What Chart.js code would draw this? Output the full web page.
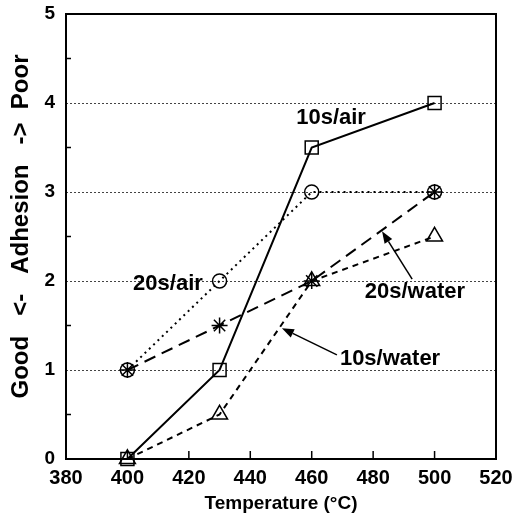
<!DOCTYPE html>
<html>
<head>
<meta charset="utf-8">
<script src="https://cdn.jsdelivr.net/npm/chart.js@4/dist/chart.umd.min.js"></script>
<style>
html,body{margin:0;padding:0;background:#fff;}
#wrap{width:522px;height:518px;}
</style>
</head>
<body>
<div id="wrap"><canvas id="c" width="522" height="518"></canvas></div>
<script>
// ---- data ----
const temps = [400, 430, 460, 500];
const air10 = [0, 1, 3.5, 4];
const air20 = [1, 2, 3, 3];
const water20 = [1, 1.5, 2, 3];
const water10 = [0, 0.5, 2, 2.5];
const xTicks = [380, 400, 420, 440, 460, 480, 500, 520];
const yTicks = [0, 1, 2, 3, 4, 5];
const seriesNames = ['10s/air', '20s/air', '20s/water', '10s/water'];

// annotation labels (data coordinates)
const labelTexts = ['10s/air', '20s/air', '20s/water', '10s/water'];
const labelX = [466.3, 413.2, 493.6, 485.5];
const labelY = [3.83, 1.97, 1.88, 1.12];
// arrows: tail -> head (data coordinates)
const arrowFromX = [492.7, 468.2];
const arrowFromY = [2.02, 1.17];
const arrowToX = [482.9, 450.3];
const arrowToY = [2.56, 1.47];

const FONT = '"Liberation Sans", Arial, Helvetica, sans-serif';

function pts(xs, ys){ return xs.map((x,i)=>({x:x, y:ys[i]})); }

const decor = {
  id: 'decor',
  beforeDatasetsDraw(chart){
    const ctx = chart.ctx, xs = chart.scales.x, ys = chart.scales.y, a = chart.chartArea;
    ctx.save();
    // dotted horizontal grid lines
    ctx.strokeStyle = '#444';
    ctx.lineWidth = 1;
    ctx.setLineDash([2,2]);
    [1,2,3,4].forEach(v=>{
      const y = Math.round(ys.getPixelForValue(v)) + 0.5;
      ctx.beginPath(); ctx.moveTo(a.left, y); ctx.lineTo(a.right, y); ctx.stroke();
    });
    ctx.setLineDash([]);
    ctx.strokeStyle = '#000';
    ctx.lineWidth = 1.5;
    // y minor ticks (inward)
    for (let v = 0.5; v < 5; v += 1){
      const y = ys.getPixelForValue(v);
      ctx.beginPath(); ctx.moveTo(a.left, y); ctx.lineTo(a.left + 5, y); ctx.stroke();
    }
    // x ticks (inward)
    xTicks.slice(1, -1).forEach(v=>{
      const x = xs.getPixelForValue(v);
      ctx.beginPath(); ctx.moveTo(x, a.bottom); ctx.lineTo(x, a.bottom - 8); ctx.stroke();
    });
    // frame
    ctx.lineWidth = 2;
    ctx.strokeRect(a.left, a.top, a.right - a.left, a.bottom - a.top);
    ctx.restore();
  },
  afterDatasetsDraw(chart){
    const ctx = chart.ctx, xs = chart.scales.x, ys = chart.scales.y;
    ctx.save();
    ctx.fillStyle = '#000';
    ctx.font = 'bold 22px ' + FONT;
    ctx.textAlign = 'center';
    ctx.textBaseline = 'middle';
    labelTexts.forEach((t,i)=>{
      ctx.fillText(t, xs.getPixelForValue(labelX[i]), ys.getPixelForValue(labelY[i]));
    });
    ctx.strokeStyle = '#000';
    ctx.lineWidth = 1.5;
    arrowFromX.forEach((_,i)=>{
      const x1 = xs.getPixelForValue(arrowFromX[i]), y1 = ys.getPixelForValue(arrowFromY[i]);
      const x2 = xs.getPixelForValue(arrowToX[i]), y2 = ys.getPixelForValue(arrowToY[i]);
      const ang = Math.atan2(y2 - y1, x2 - x1);
      const L = 12, W = 4.5;
      const bx = x2 - L*Math.cos(ang), by = y2 - L*Math.sin(ang);
      ctx.beginPath(); ctx.moveTo(x1, y1); ctx.lineTo(bx, by); ctx.stroke();
      ctx.beginPath();
      ctx.moveTo(x2, y2);
      ctx.lineTo(bx + W*Math.sin(ang), by - W*Math.cos(ang));
      ctx.lineTo(bx - W*Math.sin(ang), by + W*Math.cos(ang));
      ctx.closePath(); ctx.fill();
    });
    ctx.restore();
  }
};

const common = {
  borderColor: '#000',
  borderWidth: 2,
  pointBorderColor: '#000',
  pointBackgroundColor: 'rgba(0,0,0,0)',
  pointBorderWidth: 1.5,
  pointRadius: 7,
  fill: false,
  tension: 0,
  clip: false
};

new Chart(document.getElementById('c'), {
  type: 'line',
  data: {
    datasets: [
      Object.assign({}, common, {label: seriesNames[0], data: pts(temps, air10), pointStyle: 'rect', pointRadius: 9.2}),
      Object.assign({}, common, {label: seriesNames[1], data: pts(temps, air20), pointStyle: 'circle', pointRadius: 7, borderDash: [2,4]}),
      Object.assign({}, common, {label: seriesNames[2], data: pts(temps, water20), pointStyle: 'star', pointRadius: 8, borderDash: [12,7]}),
      Object.assign({}, common, {label: seriesNames[3], data: pts(temps, water10), pointStyle: 'triangle', pointRadius: 9.2, borderDash: [6,5]})
    ]
  },
  options: {
    responsive: false,
    animation: false,
    devicePixelRatio: 1,
    layout: {padding: {top: 14, right: 26, left: 0, bottom: 0}},
    plugins: {legend: {display: false}, tooltip: {enabled: false}},
    scales: {
      x: {
        type: 'linear', min: 380, max: 520,
        afterBuildTicks(s){ s.ticks = xTicks.map(v=>({value:v})); },
        afterFit(s){ s.height = 59; s.paddingLeft = 0; s.paddingRight = 0; },
        grid: {display: false, drawTicks: false},
        border: {display: false},
        ticks: {color: '#000', font: {family: FONT, size: 20, weight: 'bold'}, padding: 7, maxRotation: 0, autoSkip: false},
        title: {display: true, text: 'Temperature (°C)', color: '#000', font: {family: FONT, size: 19, weight: 'bold'}, padding: {top: 0, bottom: 3}}
      },
      y: {
        type: 'linear', min: 0, max: 5,
        afterBuildTicks(s){ s.ticks = yTicks.map(v=>({value:v})); },
        afterFit(s){ s.width = 66; s.paddingTop = 0; s.paddingBottom = 0; },
        grid: {display: false, drawTicks: false},
        border: {display: false},
        ticks: {color: '#000', font: {family: FONT, size: 19, weight: 'bold'}, padding: 11},
        title: {display: true, text: '   Good   <-   Adhesion   ->  Poor', color: '#000', font: {family: FONT, size: 24, weight: 'bold'}, padding: {top: 7, bottom: 0}}
      }
    }
  },
  plugins: [decor]
});
</script>
</body>
</html>
